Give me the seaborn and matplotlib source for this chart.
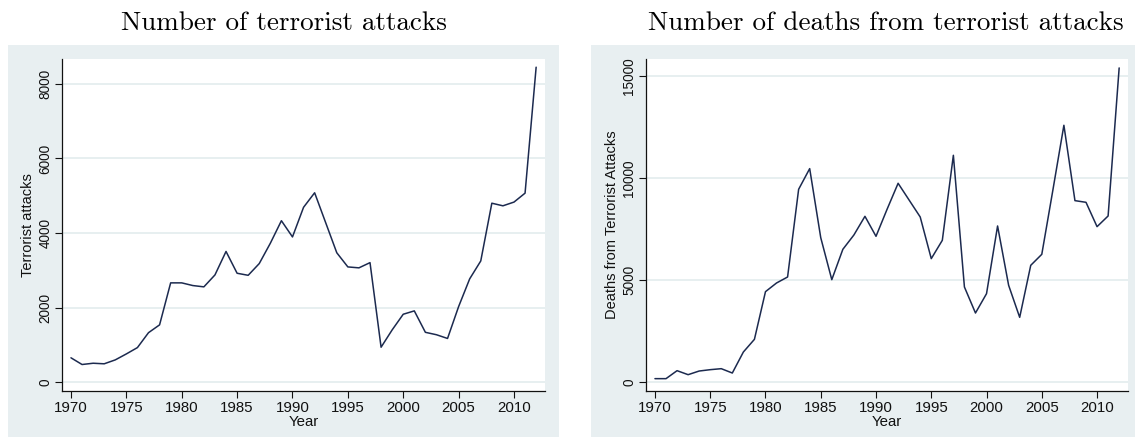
import matplotlib
matplotlib.use("Agg")
import matplotlib.pyplot as plt
import seaborn as sns
import pandas as pd
from matplotlib.patches import Rectangle

# Yearly series (1993 not recorded)
years = [1970, 1971, 1972, 1973, 1974, 1975, 1976, 1977, 1978, 1979,
         1980, 1981, 1982, 1983, 1984, 1985, 1986, 1987, 1988, 1989,
         1990, 1991, 1992, 1994, 1995, 1996, 1997, 1998, 1999,
         2000, 2001, 2002, 2003, 2004, 2005, 2006, 2007, 2008, 2009,
         2010, 2011, 2012]

attacks = [651, 471, 505, 490, 595, 755, 925, 1325, 1535, 2662,
           2662, 2590, 2555, 2875, 3505, 2920, 2865, 3180, 3725, 4330,
           3895, 4690, 5080, 3470, 3090, 3065, 3205, 935, 1400,
           1820, 1910, 1335, 1270, 1170, 2025, 2770, 3250, 4800, 4730,
           4830, 5070, 8450]

deaths = [165, 165, 556, 360, 539, 605, 654, 441, 1471, 2092,
          4428, 4853, 5147, 9445, 10458, 7075, 5016, 6503, 7206, 8121,
          7141, 8464, 9739, 8088, 6046, 6945, 11111, 4657, 3382,
          4330, 7647, 4739, 3170, 5719, 6258, 9396, 12582, 8889, 8807,
          7614, 8137, 15392]

x_ticks = [1970, 1975, 1980, 1985, 1990, 1995, 2000, 2005, 2010]
attack_ticks = [0, 2000, 4000, 6000, 8000]
death_ticks = [0, 5000, 10000, 15000]

titles = ["Number of terrorist attacks", "Number of deaths from terrorist attacks"]
ylabels = ["Terrorist attacks", "Deaths from Terrorist Attacks"]

region_color = "#e8eff1"
grid_color = "#e3ecee"
line_color = "#1c2a4f"
ink = "#111111"

sns.set_style("ticks")
plt.rcParams["font.family"] = ["Liberation Sans", "DejaVu Sans"]
plt.rcParams["text.color"] = ink
plt.rcParams["axes.labelcolor"] = ink
plt.rcParams["xtick.color"] = ink
plt.rcParams["ytick.color"] = ink

df = pd.DataFrame({"Year": years, "attacks": attacks, "deaths": deaths})

fig = plt.figure(figsize=(11.35, 4.43), dpi=100)
W, H = 1135, 443

def fx(px):
    return px / W

def fy(py):
    return 1 - py / H

# graph regions (light bluish gray backgrounds)
for x0, x1 in [(8, 559), (591, 1135)]:
    fig.patches.append(Rectangle((fx(x0), fy(437)), fx(x1 - x0), (437 - 45) / H,
                                 transform=fig.transFigure, facecolor=region_color,
                                 edgecolor="none", zorder=-5))

panels = [
    dict(col="attacks", left=62, right=545, ticks=attack_ticks, ylim=(-240, 8670),
         title_x=284),
    dict(col="deaths", left=646, right=1128, ticks=death_ticks, ylim=(-440, 15830),
         title_x=886),
]

for i, p in enumerate(panels):
    ax = fig.add_axes([fx(p["left"]), fy(391), fx(p["right"] - p["left"]), (391 - 59) / H])
    ax.set_zorder(2)
    ax.set_facecolor("white")
    for yv in p["ticks"]:
        ax.axhline(yv, color=grid_color, lw=1.2, zorder=1)
    sns.lineplot(data=df, x="Year", y=p["col"], ax=ax, color=line_color, lw=1.1,
                 zorder=3)
    ax.set_xlim(1969.19, 2012.8)
    ax.set_ylim(*p["ylim"])
    ax.set_xticks(x_ticks)
    ax.set_yticks(p["ticks"])
    ax.set_yticklabels([str(t) for t in p["ticks"]], rotation=90, va="center")
    ax.tick_params(axis="x", labelsize=10.8, length=5, width=0.8, pad=2)
    ax.tick_params(axis="y", labelsize=9.8, length=5, width=0.8, pad=2)
    for s in ["top", "right"]:
        ax.spines[s].set_visible(False)
    for s in ["left", "bottom"]:
        ax.spines[s].set_color(ink)
        ax.spines[s].set_linewidth(0.9)
    ax.set_xlabel("Year", fontsize=10.8, labelpad=0.5)
    ax.set_ylabel(ylabels[i], fontsize=10.5, labelpad=2)
    fig.text(fx(p["title_x"]), fy(23), titles[i], ha="center", va="center",
             fontsize=19.5, family="cmr10", color="black")

fig.savefig("out.png", dpi=100)
